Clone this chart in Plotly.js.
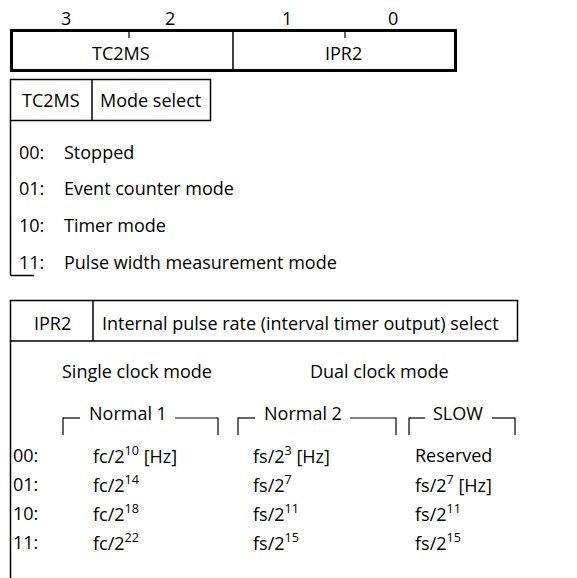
<!DOCTYPE html>
<html><head><meta charset="utf-8">
<script src="https://cdn.plot.ly/plotly-3.0.1.min.js"></script>
<style>html,body{margin:0;padding:0;background:#fff;}#c{width:577px;height:578px;}</style>
</head><body><div id="c"></div>
<script>
// ---- content ----
const bitLabels = ['3', '2', '1', '0'];
const fieldNames = ['TC2MS', 'IPR2'];
const modeHeader = ['TC2MS', 'Mode select'];
const modeCodes = ['00:', '01:', '10:', '11:'];
const modeNames = ['Stopped', 'Event counter mode', 'Timer mode', 'Pulse width measurement mode'];
const iprHeader = ['IPR2', 'Internal pulse rate (interval timer output) select'];
const clockGroups = ['Single clock mode', 'Dual clock mode'];
const subModes = ['Normal 1', 'Normal 2', 'SLOW'];
const iprCodes = ['00:', '01:', '10:', '11:'];
const normal1 = ['fc/2<sup>10</sup> [Hz]', 'fc/2<sup>14</sup>', 'fc/2<sup>18</sup>', 'fc/2<sup>22</sup>'];
const normal2 = ['fs/2<sup>3</sup> [Hz]', 'fs/2<sup>7</sup>', 'fs/2<sup>11</sup>', 'fs/2<sup>15</sup>'];
const slow = ['Reserved', 'fs/2<sup>7</sup> [Hz]', 'fs/2<sup>11</sup>', 'fs/2<sup>15</sup>'];

// ---- layout geometry ----
const FONT = {family: 'Open Sans, Noto Sans, sans-serif', size: 18, color: '#000'};
const ann = [];
function txt(x, y, t, anchor) {
  ann.push({x: x, y: y, text: t, showarrow: false, xanchor: anchor || 'left', yanchor: 'middle', font: FONT});
}
const shapes = [];
function line(x0, y0, x1, y1, w) {
  shapes.push({type: 'line', x0: x0, y0: y0, x1: x1, y1: y1, line: {color: '#000', width: w}});
}
function rect(x0, y0, x1, y1, w) {
  shapes.push({type: 'rect', x0: x0, y0: y0, x1: x1, y1: y1, line: {color: '#000', width: w}});
}

// register
const bitX = [66, 170, 287, 393];
bitLabels.forEach((b, i) => txt(bitX[i], 18, b, 'center'));
rect(11.5, 30.5, 455.5, 70.5, 3);
line(233, 30, 233, 71, 1.5);
line(129, 30, 129, 38, 1.2);
line(345, 30, 345, 38, 1.2);
txt(121, 53, fieldNames[0], 'center');
txt(343, 53, fieldNames[1], 'center');

// mode select table
rect(10.5, 79.5, 210.5, 120.5, 1.5);
line(92, 79.5, 92, 120.5, 1.5);
txt(51, 100, modeHeader[0], 'center');
txt(150, 100, modeHeader[1], 'center');
line(10.5, 120.5, 10.5, 275.5, 1.5);
line(10.5, 275.5, 34, 275.5, 1.5);
const modeY = [152, 188, 225, 262];
modeCodes.forEach((c, i) => { txt(17, modeY[i], c); txt(62, modeY[i], modeNames[i]); });

// IPR table
rect(10.5, 300.5, 517.5, 341, 1.5);
line(93, 300.5, 93, 341, 1.5);
txt(52, 323, iprHeader[0], 'center');
txt(300, 323, iprHeader[1], 'center');
line(10.5, 341, 10.5, 580, 1.5);
txt(137, 371, clockGroups[0], 'center');
txt(379, 371, clockGroups[1], 'center');

const br = [[63, 80, 175, 218, 128], [238, 255, 350, 396, 303], [409, 425, 492, 515, 458]];
br.forEach((b, i) => {
  line(b[0], 418, b[1], 418, 1.2);
  line(b[2], 418, b[3], 418, 1.2);
  line(b[0], 417.5, b[0], 435, 1.2);
  line(b[3], 417.5, b[3], 435, 1.2);
  txt(b[4], 413, subModes[i], 'center');
});
const rowY = [455, 484, 513, 542];
iprCodes.forEach((c, i) => {
  txt(11, rowY[i], c);
  txt(91, rowY[i], normal1[i]);
  txt(251, rowY[i], normal2[i]);
  txt(413, rowY[i], slow[i]);
});

const layout = {
  width: 577, height: 578,
  margin: {l: 0, r: 0, t: 0, b: 0},
  paper_bgcolor: '#fff', plot_bgcolor: '#fff',
  xaxis: {range: [0, 577], visible: false, fixedrange: true},
  yaxis: {range: [578, 0], visible: false, fixedrange: true},
  showlegend: false,
  shapes: shapes, annotations: ann
};
Plotly.newPlot('c', [{x: [], y: [], type: 'scatter'}], layout, {staticPlot: true, displayModeBar: false});
</script></body></html>
